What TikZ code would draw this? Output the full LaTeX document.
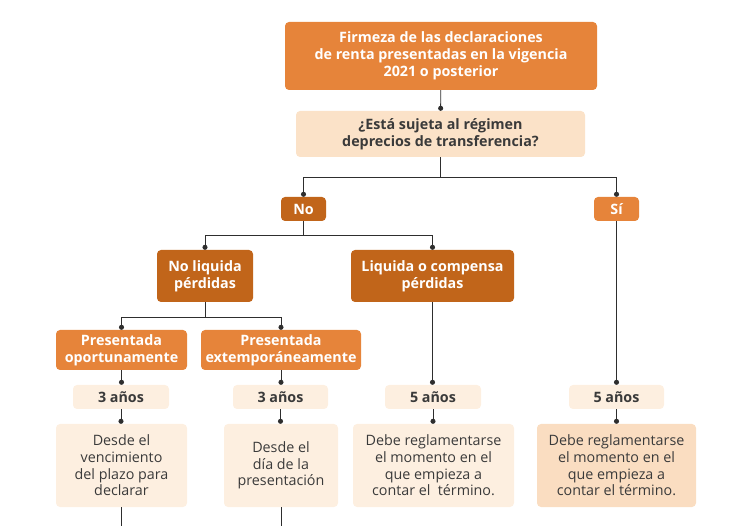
\documentclass[tikz,border=0pt]{standalone}
\usepackage{fontspec}
\setmainfont{Open Sans}
\usetikzlibrary{arrows.meta}
\definecolor{orA}{HTML}{E6843A}
\definecolor{orB}{HTML}{C1651A}
\definecolor{pchQ}{HTML}{FBE2C8}
\definecolor{pchL}{HTML}{FDEFE0}
\definecolor{pchR}{HTML}{FADDC1}
\definecolor{txD}{HTML}{3A3A3A}
\definecolor{lnC}{HTML}{2E2E2E}
\tikzset{
  box/.style={rounded corners=4pt, inner sep=0pt, align=center, font=\fontsize{14.3}{17}\selectfont},
  darkbox/.style={box, fill=orB, text=white, font=\bfseries\fontsize{14.3}{17}\selectfont},
  midbox/.style={box, fill=orA, text=white, font=\bfseries\fontsize{14.3}{17}\selectfont},
  qbox/.style={box, fill=pchQ, text=txD, font=\bfseries\fontsize{14.3}{17}\selectfont},
  yrbox/.style={box, fill=pchL, text=txD, font=\bfseries\fontsize{14.3}{17}\selectfont},
  descbox/.style={box, fill=pchL, text=txD, font=\fontsize{14.3}{16.7}\selectfont},
  conn/.style={draw=lnC, line width=0.9pt},
  dotconn/.style={conn, -{Circle[length=5pt]}},
}
\begin{document}
\begin{tikzpicture}[x=1pt,y=-1pt]
\useasboundingbox (0,0) rectangle (750,526);
% nodes
\node[midbox, minimum width=312pt, minimum height=68pt] (top) at (441,56) {Firmeza de las declaraciones\\de renta presentadas en la vigencia\\2021 o posterior};
\node[qbox, minimum width=289pt, minimum height=46pt] (q) at (440.5,134) {¿Está sujeta al régimen\\deprecios de transferencia?};
\node[darkbox, minimum width=45pt, minimum height=24pt] (no) at (303.5,209) {No};
\node[midbox, minimum width=45pt, minimum height=24pt] (si) at (616.5,209) {Sí};
\node[darkbox, minimum width=96pt, minimum height=52pt] (nlp) at (205,276) {No liquida\\pérdidas};
\node[darkbox, minimum width=163pt, minimum height=52pt] (lcp) at (432.5,276) {Liquida o compensa\\pérdidas};
\node[midbox, minimum width=131pt, minimum height=40pt] (po) at (121.5,350) {Presentada\\oportunamente};
\node[midbox, minimum width=160pt, minimum height=40pt] (pe) at (281,350) {Presentada\\extemporáneamente};
\node[yrbox, minimum width=96pt, minimum height=24pt] (y1) at (121,397) {3 años};
\node[yrbox, minimum width=95pt, minimum height=24pt] (y2) at (280.5,397) {3 años};
\node[yrbox, minimum width=96pt, minimum height=24pt] (y3) at (433,397) {5 años};
\node[yrbox, minimum width=95pt, minimum height=24pt] (y4) at (616.5,397) {5 años};
\node[descbox, minimum width=131pt, minimum height=83pt] (d1) at (121.5,465.5) {Desde el\\vencimiento\\del plazo para\\declarar};
\node[descbox, minimum width=114pt, minimum height=83pt] (d2) at (281,465.5) {Desde el\\día de la\\presentación};
\node[descbox, minimum width=161pt, minimum height=83pt] (d3) at (433.5,465.5) {Debe reglamentarse\\el momento en el\\que empieza a\\contar el \ término.};
\node[descbox, fill=pchR, minimum width=159pt, minimum height=83pt] (d4) at (616.5,465.5) {Debe reglamentarse\\el momento en el\\que empieza a\\contar el término.};
% connectors
\draw[dotconn] (top) -- (q);
\coordinate (j1) at (440.5,177);
\draw[conn] (q.south) -- (j1);
\draw[dotconn] (j1) -| (no.north);
\draw[dotconn] (j1) -| (si.north);
\coordinate (j2) at (303.5,235);
\draw[conn] (no.south) -- (j2);
\draw[dotconn] (j2) -| (nlp.north);
\draw[dotconn] (j2) -| (lcp.north);
\coordinate (j3) at (205,317);
\draw[conn] (nlp.south) -- (j3);
\draw[dotconn] (j3) -| (po.north);
\draw[dotconn] (j3) -| (pe.north);
\draw[dotconn] (po) -- (po.south |- y1.north);
\draw[dotconn] (pe) -- (pe.south |- y2.north);
\draw[dotconn] (lcp) -- (lcp.south |- y3.north);
\draw[dotconn] (si) -- (si.south |- y4.north);
\draw[dotconn] (y1) -- (y1.south |- d1.north);
\draw[dotconn] (y2) -- (y2.south |- d2.north);
\draw[dotconn] (y3) -- (y3.south |- d3.north);
\draw[dotconn] (y4) -- (y4.south |- d4.north);
\coordinate (e1) at (121.5,526);
\coordinate (e2) at (281,526);
\draw[conn] (d1) -- (e1);
\draw[conn] (d2) -- (e2);
\end{tikzpicture}
\end{document}
